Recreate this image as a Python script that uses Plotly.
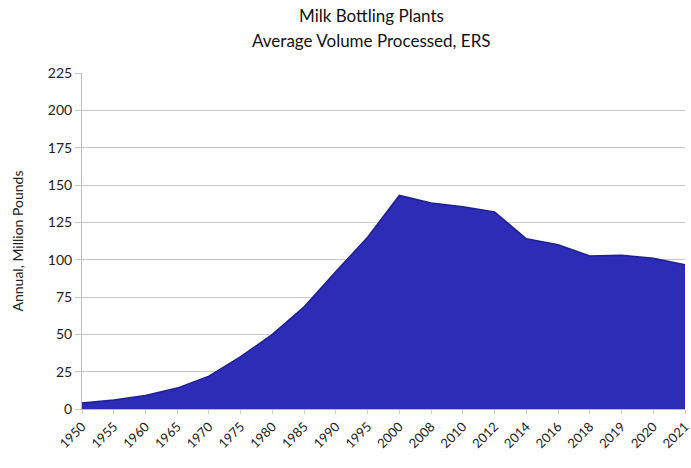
import plotly.graph_objects as go

years = ["1950", "1955", "1960", "1965", "1970", "1975", "1980", "1985", "1990", "1995",
         "2000", "2008", "2010", "2012", "2014", "2016", "2018", "2019", "2020", "2021"]
volume = [4, 6, 9, 14, 22, 35, 50, 68.5, 92, 115,
          143, 138, 135.5, 132, 114, 110, 102.5, 103, 101, 96.5]
y_ticks = [0, 25, 50, 75, 100, 125, 150, 175, 200, 225]
title_lines = ["Milk Bottling Plants", "Average Volume Processed, ERS"]

fig = go.Figure()
fig.add_trace(go.Scatter(
    x=list(range(len(years))), y=volume, mode="lines",
    fill="tozeroy", fillcolor="#2c2cb6",
    line=dict(color="#1f1f94", width=1.5),
    hoverinfo="skip", showlegend=False,
))

for i, line in enumerate(title_lines):
    fig.add_annotation(
        text=line, xref="paper", yref="paper",
        x=0.48, y=1, xanchor="center", yanchor="middle",
        yshift=58 - i * 25, showarrow=False,
        font=dict(size=17, color="#111111"),
    )

fig.update_layout(
    width=691, height=468,
    margin=dict(l=82, r=6, t=73, b=59),
    paper_bgcolor="white", plot_bgcolor="white",
    font=dict(family="Lato, 'Open Sans', sans-serif", color="#222222"),
    xaxis=dict(
        tickmode="array", tickvals=list(range(len(years))), ticktext=years,
        range=[0, len(years) - 1], tickangle=-45,
        ticklabeloverflow="allow", automargin=False,
        showgrid=False, zeroline=False,
        showline=True, linecolor="#bbbbbb",
        ticks="outside", ticklen=4, tickcolor="#cccccc",
        tickfont=dict(size=13, color="#222222"),
    ),
    yaxis=dict(
        range=[0, 225], tickvals=y_ticks, automargin=False,
        showgrid=True, gridcolor="#c8c8c8", gridwidth=1,
        zeroline=False, showline=True, linecolor="#bbbbbb",
        ticks="outside", ticklen=6, tickcolor="#c8c8c8",
        tickfont=dict(size=14, color="#222222"),
        title=dict(text="Annual, Million Pounds", font=dict(size=14, color="#222222"), standoff=20),
    ),
)

fig.write_html("out.html")
